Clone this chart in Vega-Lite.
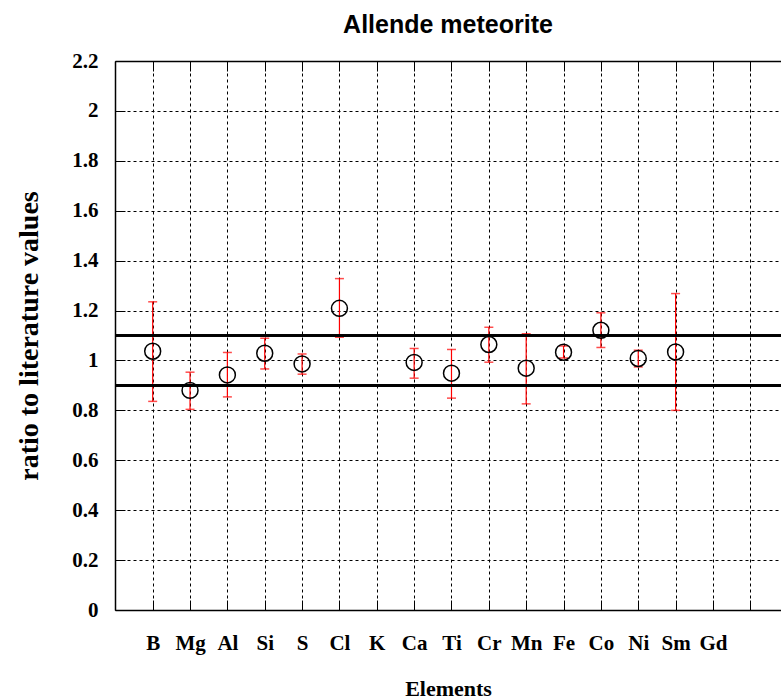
{
  "$schema": "https://vega.github.io/schema/vega-lite/v6.json",
  "autosize": "none",
  "width": 666,
  "height": 549,
  "padding": {"left": 115, "top": 61, "right": 0, "bottom": 90},
  "background": "white",
  "title": {"text": "Allende meteorite", "font": "Liberation Sans", "fontSize": 25, "fontWeight": "bold", "color": "black", "offset": 12, "anchor": "middle"},
  "config": {
    "view": {"stroke": null},
    "axis": {"labelFont": "Liberation Serif", "labelFontWeight": "bold", "labelFontSize": 21, "labelColor": "black", "titleFont": "Liberation Serif", "titleFontWeight": "bold", "titleFontSize": 22, "titleColor": "black", "domainColor": "black", "domainWidth": 1.5, "tickColor": "black", "gridColor": "black", "gridDash": [3, 3], "gridOpacity": 1, "gridWidth": 1}
  },
  "data": {
    "values": [
      {"element": "B", "ratio": 1.037, "lo": 0.836, "hi": 1.235},
      {"element": "Mg", "ratio": 0.880, "lo": 0.804, "hi": 0.953},
      {"element": "Al", "ratio": 0.942, "lo": 0.854, "hi": 1.032},
      {"element": "Si", "ratio": 1.029, "lo": 0.966, "hi": 1.089},
      {"element": "S", "ratio": 0.986, "lo": 0.945, "hi": 1.026},
      {"element": "Cl", "ratio": 1.209, "lo": 1.093, "hi": 1.328},
      {"element": "Ca", "ratio": 0.992, "lo": 0.929, "hi": 1.048},
      {"element": "Ti", "ratio": 0.949, "lo": 0.849, "hi": 1.044},
      {"element": "Cr", "ratio": 1.064, "lo": 0.993, "hi": 1.133},
      {"element": "Mn", "ratio": 0.969, "lo": 0.826, "hi": 1.107},
      {"element": "Fe", "ratio": 1.033, "lo": 1.010, "hi": 1.058},
      {"element": "Co", "ratio": 1.121, "lo": 1.052, "hi": 1.191},
      {"element": "Ni", "ratio": 1.008, "lo": 0.974, "hi": 1.041},
      {"element": "Sm", "ratio": 1.034, "lo": 0.800, "hi": 1.268}
    ]
  },
  "resolve": {"axis": {"x": "independent"}},
  "layer": [
    {
      "mark": {"type": "rule", "color": "red", "strokeWidth": 1.2},
      "encoding": {
        "x": {"field": "element", "type": "nominal",
          "scale": {"type": "point", "domain": ["B","Mg","Al","Si","S","Cl","K","Ca","Ti","Cr","Mn","Fe","Co","Ni","Sm","Gd"," "], "padding": 0.9155, "align": 0.551},
          "axis": {"orient": "top", "labels": false, "title": null, "grid": false, "domain": true, "ticks": true, "tickSize": -10, "tickWidth": 1}},
        "y": {"field": "lo", "type": "quantitative",
          "scale": {"domain": [0, 2.2], "nice": false, "zero": true},
          "axis": {"title": "ratio to literature values", "titleFontSize": 28, "values": [0,0.1,0.2,0.3,0.4,0.5,0.6,0.7,0.8,0.9,1,1.1,1.2,1.3,1.4,1.5,1.6,1.7,1.8,1.9,2,2.1,2.2],
            "labelExpr": "round(datum.value*10) % 2 == 0 ? toString(round(datum.value*10)/10) : ''",
            "tickSize": -10, "tickWidth": 1, "labelPadding": 27, "titlePadding": 28, "grid": true, "labelBound": false}},
        "y2": {"field": "hi"}
      }
    },
    {
      "mark": {"type": "tick", "color": "red", "size": 9, "thickness": 1.5},
      "encoding": {
        "x": {"field": "element", "type": "nominal", "axis": null},
        "y": {"field": "lo", "type": "quantitative"}
      }
    },
    {
      "mark": {"type": "tick", "color": "red", "size": 9, "thickness": 1.5},
      "encoding": {
        "x": {"field": "element", "type": "nominal", "axis": null},
        "y": {"field": "hi", "type": "quantitative"}
      }
    },
    {
      "mark": {"type": "rule", "color": "black", "strokeWidth": 3},
      "encoding": {"y": {"datum": 0.9, "type": "quantitative"}}
    },
    {
      "mark": {"type": "rule", "color": "black", "strokeWidth": 1.5},
      "encoding": {"y": {"datum": 1.1, "type": "quantitative"}}
    },
    {
      "mark": {"type": "point", "shape": "circle", "filled": false, "size": 254, "stroke": "black", "strokeWidth": 1.5, "opacity": 1},
      "encoding": {
        "x": {"field": "element", "type": "nominal",
          "axis": {"orient": "bottom", "title": "Elements", "labelAngle": 0, "grid": true, "tickSize": -10, "tickWidth": 1, "labelPadding": 32, "titlePadding": 25}},
        "y": {"field": "ratio", "type": "quantitative"}
      }
    }
  ]
}
